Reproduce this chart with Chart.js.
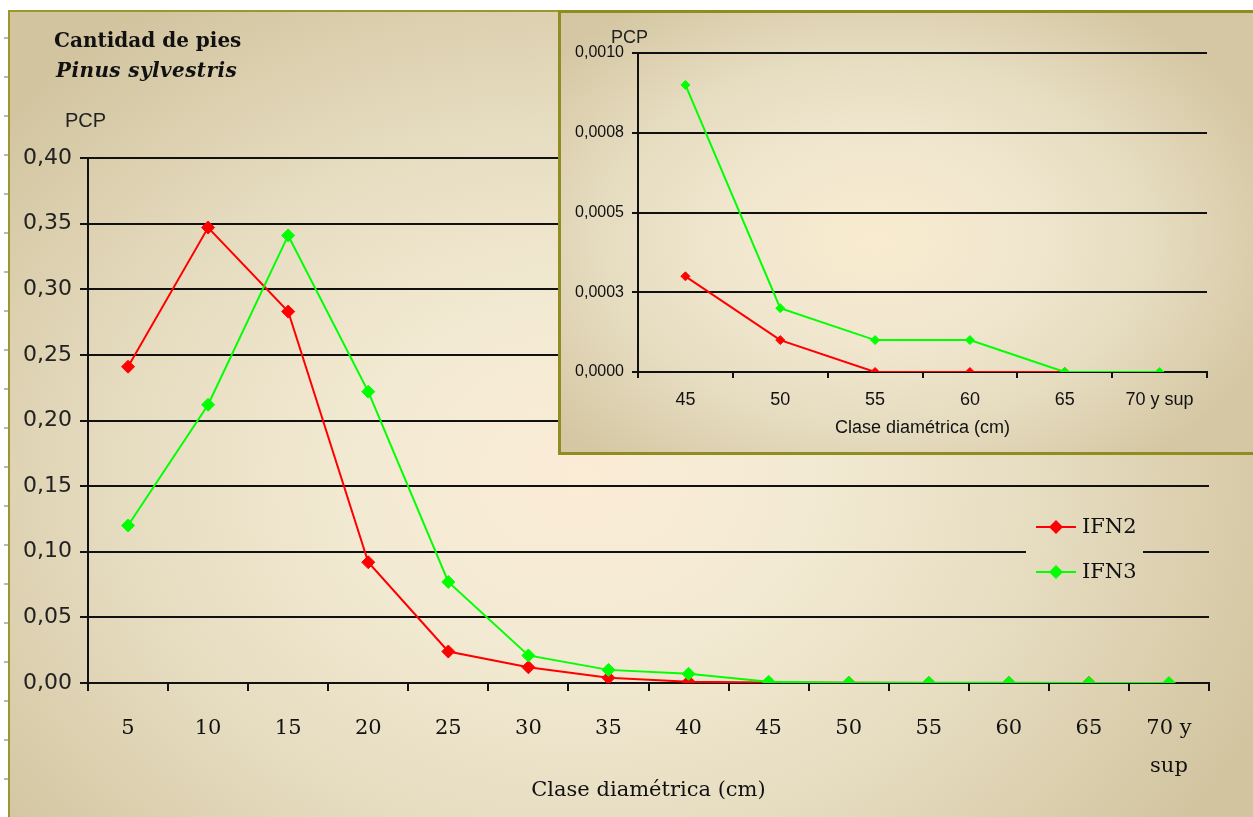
<!DOCTYPE html>
<html>
<head>
<meta charset="utf-8">
<script src="https://cdn.jsdelivr.net/npm/chart.js@4.4.0/dist/chart.umd.min.js"></script>
<style>
  body { margin:0; width:1253px; height:817px; overflow:hidden; background:#fff; position:relative; }
  #marks { position:absolute; left:4px; top:0; width:4px; height:817px;
    background: repeating-linear-gradient(to bottom, transparent 0, transparent 37px, #b8b8b8 37px, #b8b8b8 39px); }
  #frame { position:absolute; left:8px; top:10px; width:1245px; height:807px;
    border-left:2px solid #9a972c; border-top:2px solid #9a972c;
    background: radial-gradient(ellipse 60% 72% at 46% 58%, #fbecd6 0%, #f3ead3 30%, #e6dcc0 62%, #d2c49f 100%); }
  #main { position:absolute; left:0; top:0; }
  #inset { position:absolute; left:558px; top:10px; width:700px; height:439px;
    border:3px solid #8f8c22;
    background: radial-gradient(ellipse 60% 65% at 45% 52%, #f8ebcf 0%, #f1e7cf 35%, #e6dcc0 65%, #d5c7a3 100%); }
  #insetCanvas { position:absolute; left:0; top:0; }
  .title { position:absolute; left:54px; top:25px; font: bold 20px/30px 'DejaVu Serif', serif; color:#111; }
  .title i { display:block; margin-left:2px; letter-spacing:0.4px; }
  .pcp { position:absolute; font-family:'Liberation Sans', Arial, sans-serif; color:#222; }
</style>
</head>
<body>
<div id="marks"></div>
<div id="frame"></div>
<canvas id="main" width="1253" height="817"></canvas>
<div class="title">Cantidad de pies<i>Pinus sylvestris</i></div>
<div class="pcp" style="left:65px; top:110px; font-size:20px; line-height:20px;">PCP</div>
<div id="inset">
  <canvas id="insetCanvas" width="692" height="439"></canvas>
</div>
<div class="pcp" style="left:611px; top:28px; font-size:18px; line-height:18px;">PCP</div>
<script>
// ===== DATA =====
const categories = ['5', '10', '15', '20', '25', '30', '35', '40', '45', '50', '55', '60', '65', ['70 y', 'sup']];
const ifn2 = [0.241, 0.347, 0.283, 0.092, 0.024, 0.012, 0.004, 0.001, 0.0003, 0.0001, 0, 0, 0, null];
const ifn3 = [0.120, 0.212, 0.341, 0.222, 0.077, 0.021, 0.010, 0.007, 0.0009, 0.0002, 0.0001, 0.0001, 0, 0];
const yLabels = ['0,00', '0,05', '0,10', '0,15', '0,20', '0,25', '0,30', '0,35', '0,40'];

const insetCategories = ['45', '50', '55', '60', '65', '70 y sup'];
const insetFrom = 8; // inset starts at class 45
const insetYLabels = ['0,0000', '0,0003', '0,0005', '0,0008', '0,0010'];

const RED = '#ff0000';
const GREEN = '#00ff00';
const INK = '#111';
const serif = "'DejaVu Serif', serif";
const sans = "'Liberation Sans', Arial, sans-serif";

function series(label, data, color, radius, order) {
  return {
    label, data, order,
    borderColor: color, backgroundColor: color,
    borderWidth: 2, tension: 0,
    pointStyle: 'rectRot', pointRadius: radius,
    pointBorderWidth: 1, pointBorderColor: color, pointBackgroundColor: color
  };
}

// ===== LEGEND (inside the plot, cuts the gridline) =====
const legendBox = {
  id: 'legendBox',
  beforeDatasetsDraw(chart) {
    chart.ctx.clearRect(1026, 506, 117, 88);
  },
  afterDatasetsDraw(chart) {
    const ctx = chart.ctx;
    const items = [chart.data.datasets[0], chart.data.datasets[1]];
    ctx.save();
    items.forEach((ds, i) => {
      const y = 527 + i * 45;
      ctx.strokeStyle = ds.borderColor;
      ctx.fillStyle = ds.borderColor;
      ctx.lineWidth = 2;
      ctx.beginPath();
      ctx.moveTo(1036, y);
      ctx.lineTo(1076, y);
      ctx.stroke();
      ctx.beginPath();
      ctx.moveTo(1056, y - 7);
      ctx.lineTo(1063, y);
      ctx.lineTo(1056, y + 7);
      ctx.lineTo(1049, y);
      ctx.closePath();
      ctx.fill();
      ctx.fillStyle = INK;
      ctx.font = '21px ' + serif;
      ctx.textBaseline = 'middle';
      ctx.fillText(ds.label, 1082, y + 1);
    });
    ctx.restore();
  }
};

// ===== MAIN CHART =====
new Chart(document.getElementById('main'), {
  type: 'line',
  data: {
    labels: categories,
    datasets: [
      series('IFN2', ifn2, RED, 6.5, 1),
      series('IFN3', ifn3, GREEN, 6.5, 0)
    ]
  },
  options: {
    responsive: false,
    animation: false,
    layout: { padding: { left: 0, right: 44, top: 158, bottom: 0 } },
    plugins: { legend: { display: false }, tooltip: { enabled: false } },
    scales: {
      x: {
        type: 'category',
        offset: true,
        grid: { offset: true, drawOnChartArea: false, tickLength: 8, color: INK, lineWidth: 2 },
        border: { color: INK, width: 2 },
        ticks: { color: INK, font: { family: serif, size: 21, lineHeight: 1.8 }, padding: 19, maxRotation: 0, autoSkip: false },
        title: { display: true, text: 'Clase diamétrica (cm)', color: INK, font: { family: serif, size: 21 }, padding: { top: 0, bottom: 14 } },
        afterFit: s => { s.height = 134; }
      },
      y: {
        min: 0, max: 0.4,
        grid: { color: INK, lineWidth: 2, tickLength: 8 },
        border: { color: INK, width: 2 },
        ticks: { stepSize: 0.05, color: '#222', padding: 8, font: { family: "'DejaVu Sans', sans-serif", size: 22 },
          callback: (v, i) => yLabels[i] },
        afterFit: s => { s.width = 88; }
      }
    }
  },
  plugins: [legendBox]
});

// ===== INSET CHART =====
new Chart(document.getElementById('insetCanvas'), {
  type: 'line',
  data: {
    labels: insetCategories,
    datasets: [
      series('IFN2', ifn2.slice(insetFrom), RED, 4.5, 1),
      series('IFN3', ifn3.slice(insetFrom), GREEN, 4.5, 0)
    ]
  },
  options: {
    responsive: false,
    animation: false,
    layout: { padding: { left: 0, right: 46, top: 40, bottom: 0 } },
    plugins: { legend: { display: false }, tooltip: { enabled: false } },
    scales: {
      x: {
        type: 'category',
        offset: true,
        grid: { offset: true, drawOnChartArea: false, tickLength: 6, color: INK, lineWidth: 2 },
        border: { color: INK, width: 2 },
        ticks: { color: INK, font: { family: sans, size: 18 }, padding: 11, maxRotation: 0, autoSkip: false },
        title: { display: true, text: 'Clase diamétrica (cm)', color: INK, font: { family: sans, size: 18 }, padding: { top: 0, bottom: 13 } },
        afterFit: s => { s.height = 80; }
      },
      y: {
        min: 0, max: 0.001,
        grid: { color: INK, lineWidth: 2, tickLength: 6 },
        border: { color: INK, width: 2 },
        ticks: { stepSize: 0.00025, color: INK, padding: 8, font: { family: sans, size: 16 },
          callback: (v, i) => insetYLabels[i] },
        afterFit: s => { s.width = 77; }
      }
    }
  }
});
</script>
</body>
</html>
